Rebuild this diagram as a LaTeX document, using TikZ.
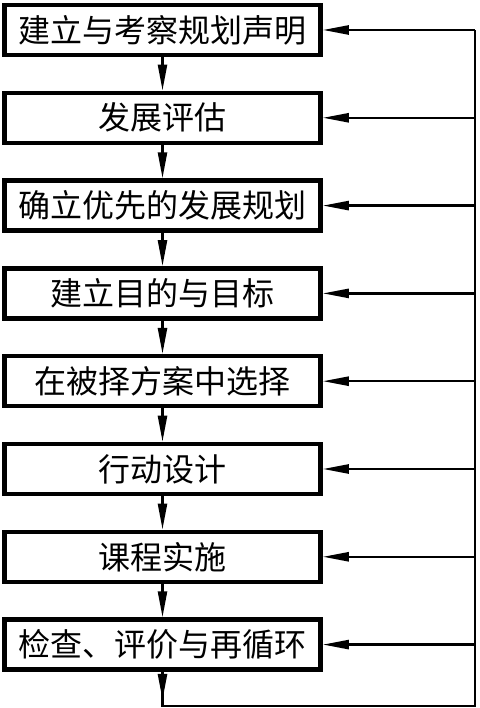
\documentclass[tikz,border=0pt]{standalone}
\usepackage{fontspec}
\newfontfamily\cjk{Noto Sans CJK SC}
\usetikzlibrary{arrows.meta}
\begin{document}
\begin{tikzpicture}[x=1pt,y=1pt,
  stepbox/.style={draw, line width=4.5pt, minimum width=316pt, minimum height=50pt, inner sep=0pt, font=\cjk\fontsize{32}{32}\selectfont},
  conn/.style={line width=2.4pt},
  tip/.style={-{Triangle[length=26pt,width=9pt]}}]
\useasboundingbox (0,0) rectangle (479,708);
\node[stepbox] (b1) at (162.5,678) {建立与考察规划声明};
\node[stepbox] (b2) at (162.5,590.2) {发展评估};
\node[stepbox] (b3) at (162.5,502.4) {确立优先的发展规划};
\node[stepbox] (b4) at (162.5,414.6) {建立目的与目标};
\node[stepbox] (b5) at (162.5,326.8) {在被择方案中选择};
\node[stepbox] (b6) at (162.5,239) {行动设计};
\node[stepbox] (b7) at (162.5,151.2) {课程实施};
\node[stepbox] (b8) at (162.5,63.4) {检查、评价与再循环};
\coordinate (bl) at (162.5,2);
\coordinate (br) at (475,2);
\coordinate (tr) at (475,678);
\coordinate (tip8) at (162.5,8);
\foreach \a/\b in {b1/b2,b2/b3,b3/b4,b4/b5,b5/b6,b6/b7,b7/b8}
  \draw[conn,tip] (\a.south) -- (\b.north);
\draw[conn,tip] (b8.south) -- (tip8);
\draw[conn] (b8.south) -- (bl) -- (br) -- (tr);
\foreach \n in {b1,b2,b3,b4,b5,b6,b7,b8}
  \draw[conn,tip] (\n.east -| br) -- (\n.east);
\end{tikzpicture}
\end{document}
